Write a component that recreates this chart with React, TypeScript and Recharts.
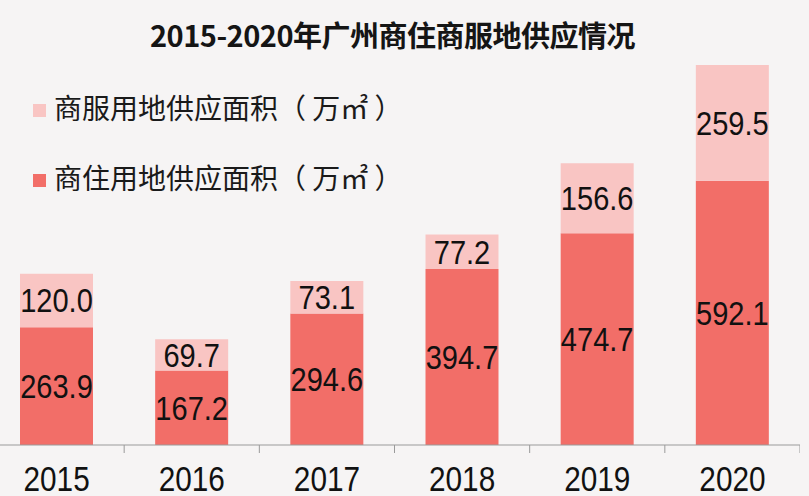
import React from 'react';
import { BarChart, Bar, XAxis, YAxis, LabelList } from 'recharts';

const years = ['2015', '2016', '2017', '2018', '2019', '2020'];
const residentialSupply = [263.9, 167.2, 294.6, 394.7, 474.7, 592.1];
const serviceSupply = [120.0, 69.7, 73.1, 77.2, 156.6, 259.5];
const seriesNames = ['商住用地供应面积（ 万㎡ ）', '商服用地供应面积（ 万㎡ ）'];
const titleText = '2015-2020年广州商住商服地供应情况';

const data = years.map((y, i) => ({
  year: y,
  res: residentialSupply[i],
  svc: serviceSupply[i],
}));

const COLOR_RES = '#F26E68';
const COLOR_SVC = '#F9C5C3';
const NUM_FONT = "'Liberation Sans', Arial, sans-serif";
const CJK_FONT = "'Noto Sans CJK SC', 'Noto Sans', sans-serif";
const SQUEEZE = 0.85;

const Tick = (props: any) => {
  const { x, y, payload, index, visibleTicksCount } = props;
  const off = payload && payload.offset ? payload.offset : 0;
  const axisY = y - 21;
  return (
    <g>
      <line x1={x - off} x2={x - off} y1={axisY} y2={axisY + 8} stroke="#9a9a9a" strokeWidth={1} />
      {index === visibleTicksCount - 1 && (
        <line x1={x + off} x2={x + off} y1={axisY} y2={axisY + 8} stroke="#9a9a9a" strokeWidth={1} />
      )}
      <g transform={`translate(${x},${y}) scale(${SQUEEZE},1)`}>
        <text x={0} y={0} dy="0.71em" textAnchor="middle" fill="#111" fontSize={35} fontFamily={NUM_FONT}>
          {payload.value}
        </text>
      </g>
    </g>
  );
};

const BarValue = (props: any) => {
  const { x, y, width, height, value } = props;
  const cx = Number(x) + Number(width) / 2;
  const cy = Number(y) + Number(height) / 2;
  return (
    <g transform={`translate(${cx},${cy}) scale(${SQUEEZE + 0.03},1)`}>
      <text x={0} y={0} dy="0.36em" textAnchor="middle" fill="#111" fontSize={33} fontFamily={NUM_FONT}>
        {Number(value).toFixed(1)}
      </text>
    </g>
  );
};

const legendRows = [
  { name: seriesNames[1], color: COLOR_SVC, top: 86 },
  { name: seriesNames[0], color: COLOR_RES, top: 156 },
];

export default function App() {
  return (
    <div style={{ position: 'absolute', top: 0, left: 0, width: 809, height: 496, overflow: 'hidden', background: '#F6F4F4' }}>
      <div
        style={{
          position: 'absolute',
          top: 13,
          left: 0,
          width: 785,
          textAlign: 'center',
          fontFamily: CJK_FONT,
          fontSize: 29,
          fontWeight: 700,
          color: '#151515',
          letterSpacing: -0.5,
          whiteSpace: 'nowrap',
        }}
      >
        {titleText}
      </div>
      {legendRows.map((r, i) => (
        <div key={i} style={{ position: 'absolute', left: 33, top: r.top, display: 'flex', alignItems: 'center', height: 42 }}>
          <div style={{ width: 13, height: 13, background: r.color, marginRight: 8, marginTop: 6 }} />
          <span style={{ fontFamily: CJK_FONT, fontSize: 28, color: '#1a1a1a', whiteSpace: 'nowrap' }}>{r.name}</span>
        </div>
      ))}
      <div style={{ position: 'absolute', left: -11, top: 0 }}>
        <BarChart width={811} height={496} data={data} margin={{ top: 65, right: 0, bottom: 0, left: 0 }} barSize={73}>
          <XAxis
            dataKey="year"
            height={51}
            tickLine={false}
            axisLine={{ stroke: '#9a9a9a' }}
            tick={<Tick />}
            tickMargin={13}
            tickSize={8}
            interval={0}
          />
          <YAxis hide domain={[0, 'dataMax']} />
          <Bar dataKey="res" stackId="a" fill={COLOR_RES} isAnimationActive={false} name={seriesNames[0]}>
            <LabelList dataKey="res" content={<BarValue />} />
          </Bar>
          <Bar dataKey="svc" stackId="a" fill={COLOR_SVC} isAnimationActive={false} name={seriesNames[1]}>
            <LabelList dataKey="svc" content={<BarValue />} />
          </Bar>
        </BarChart>
      </div>
    </div>
  );
}
